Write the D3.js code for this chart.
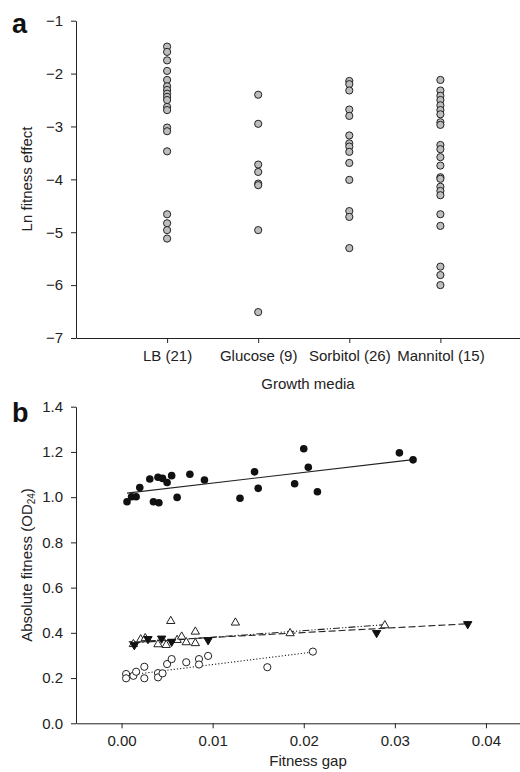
<!DOCTYPE html>
<html>
<head>
<meta charset="utf-8">
<script src="https://cdn.jsdelivr.net/npm/d3@7"></script>
<style>
  body { margin: 0; background: #fff; }
  svg { display: block; font-family: "Liberation Sans", Arial, sans-serif; }
  .tick text { font-size: 15px; fill: #222; }
  .domain, .tick line { stroke: #222; }
</style>
</head>
<body>
<div id="chart"></div>
<script>
// Panel a: Ln fitness effect per growth medium
const media = ['LB (21)', 'Glucose (9)', 'Sorbitol (26)', 'Mannitol (15)'];
const lbValues = [-1.49, -1.59, -1.75, -1.95, -2.12, -2.24, -2.31, -2.38, -2.44, -2.50, -2.63, -2.69, -3.02, -3.09, -3.47, -4.66, -4.83, -4.96, -5.12];
const glucoseValues = [-2.40, -2.95, -3.72, -3.86, -4.08, -4.11, -4.96, -6.51];
const sorbitolValues = [-2.14, -2.20, -2.32, -2.68, -2.80, -3.17, -3.32, -3.38, -3.48, -3.69, -4.01, -4.60, -4.71, -5.30];
const mannitolValues = [-2.12, -2.32, -2.42, -2.50, -2.60, -2.69, -2.77, -2.92, -2.97, -3.35, -3.43, -3.58, -3.74, -3.96, -3.99, -4.14, -4.22, -4.30, -4.66, -4.88, -5.65, -5.81, -6.00];
const yTicksA = [-7, -6, -5, -4, -3, -2, -1];

// Panel b: absolute fitness vs fitness gap, [gap, OD24]
const filledCircles = [[0.0006, 0.980], [0.0011, 1.002], [0.0016, 1.002], [0.0020, 1.043], [0.0031, 1.080], [0.0035, 0.980], [0.0040, 1.088], [0.0041, 0.975], [0.0045, 1.083], [0.0050, 1.065], [0.0055, 1.095], [0.0061, 0.999], [0.0075, 1.101], [0.0091, 1.076], [0.0130, 0.995], [0.0146, 1.112], [0.0150, 1.039], [0.0190, 1.059], [0.0200, 1.214], [0.0205, 1.132], [0.0215, 1.024], [0.0305, 1.196], [0.0320, 1.165]];
const downTriangles = [[0.0014, 0.346], [0.0029, 0.373], [0.0044, 0.375], [0.0055, 0.361], [0.0095, 0.368], [0.0280, 0.400], [0.0380, 0.439]];
const openTriangles = [[0.0013, 0.350], [0.0021, 0.371], [0.0026, 0.376], [0.0040, 0.349], [0.0049, 0.346], [0.0054, 0.452], [0.0061, 0.368], [0.0066, 0.383], [0.0071, 0.358], [0.0081, 0.405], [0.0081, 0.354], [0.0125, 0.445], [0.0185, 0.398], [0.0289, 0.433]];
const openCircles = [[0.0005, 0.218], [0.0005, 0.199], [0.0013, 0.210], [0.0016, 0.228], [0.0025, 0.250], [0.0025, 0.199], [0.0040, 0.222], [0.0040, 0.203], [0.0045, 0.221], [0.0050, 0.262], [0.0055, 0.284], [0.0071, 0.270], [0.0085, 0.284], [0.0085, 0.260], [0.0095, 0.298], [0.0160, 0.248], [0.0210, 0.317]];
// fitted lines: [x0, y0, x1, y1]
const fitFilledCircles = [0.0006, 1.018, 0.0320, 1.166];
const fitDownTriangles = [0.0008, 0.360, 0.0380, 0.440];
const fitOpenTriangles = [0.0013, 0.355, 0.0289, 0.436];
const fitOpenCircles = [0.0005, 0.212, 0.0210, 0.315];
const xTicksB = [0, 0.01, 0.02, 0.03, 0.04];
const yTicksB = [0, 0.2, 0.4, 0.6, 0.8, 1.0, 1.2, 1.4];

const W = 520, H = 772;
const svg = d3.select('#chart').append('svg')
  .attr('width', W)
  .attr('height', H);

// ---------- panel a ----------
const left = 76;
const xA = d3.scalePoint().domain(media).range([left, 531.5]).padding(1);
const yA = d3.scaleLinear().domain([-7, -1]).range([338, 20.7]);

svg.append('g')
  .attr('transform', `translate(${left},0)`)
  .call(d3.axisLeft(yA).tickValues(yTicksA).tickFormat(d3.format('d')).tickSize(5).tickSizeOuter(0).tickPadding(8));

svg.append('g')
  .attr('transform', 'translate(0,338)')
  .call(d3.axisBottom(xA).tickSize(5).tickSizeOuter(0).tickPadding(7.5));

const seriesA = [lbValues, glucoseValues, sorbitolValues, mannitolValues];
seriesA.forEach((vals, i) => {
  svg.append('g').selectAll('circle')
    .data(vals)
    .join('circle')
    .attr('cx', xA(media[i]))
    .attr('cy', d => yA(d))
    .attr('r', 3.6)
    .attr('fill', '#bdbdbd')
    .attr('stroke', '#222')
    .attr('stroke-width', 1);
});

svg.append('text')
  .attr('x', 308).attr('y', 389)
  .attr('text-anchor', 'middle')
  .attr('font-size', 15).attr('fill', '#222')
  .text('Growth media');

svg.append('text')
  .attr('transform', 'translate(31.5,179) rotate(-90)')
  .attr('text-anchor', 'middle')
  .attr('font-size', 15).attr('fill', '#222')
  .text('Ln fitness effect');

svg.append('text')
  .attr('x', 12).attr('y', 33)
  .attr('font-size', 27).attr('font-weight', 'bold').attr('fill', '#111')
  .text('a');

// ---------- panel b ----------
const xB = d3.scaleLinear().domain([-0.005, 0.045]).range([left, 531.5]);
const yB = d3.scaleLinear().domain([0, 1.4]).range([723.3, 406.7]);

svg.append('g')
  .attr('transform', `translate(${left},0)`)
  .call(d3.axisLeft(yB).tickValues(yTicksB).tickFormat(d3.format('.1f')).tickSize(5).tickSizeOuter(0).tickPadding(8));

svg.append('g')
  .attr('transform', 'translate(0,723.3)')
  .call(d3.axisBottom(xB).tickValues(xTicksB).tickFormat(d3.format('.2f')).tickSize(5).tickSizeOuter(0).tickPadding(7));

const fits = [
  {f: fitFilledCircles, dash: null},
  {f: fitDownTriangles, dash: '7,3'},
  {f: fitOpenTriangles, dash: '7,2,1.2,2,1.2,2'},
  {f: fitOpenCircles, dash: '1.2,2'}
];
svg.append('g').selectAll('line')
  .data(fits)
  .join('line')
  .attr('x1', d => xB(d.f[0])).attr('y1', d => yB(d.f[1]))
  .attr('x2', d => xB(d.f[2])).attr('y2', d => yB(d.f[3]))
  .attr('stroke', '#222')
  .attr('stroke-width', 1.1)
  .attr('stroke-dasharray', d => d.dash);

svg.append('g').selectAll('circle')
  .data(openCircles)
  .join('circle')
  .attr('cx', d => xB(d[0])).attr('cy', d => yB(d[1]))
  .attr('r', 3.6)
  .attr('fill', '#fff').attr('stroke', '#222').attr('stroke-width', 1);

const tri = d3.symbol().type(d3.symbolTriangle).size(30);
svg.append('g').selectAll('path')
  .data(openTriangles)
  .join('path')
  .attr('d', tri)
  .attr('transform', d => `translate(${xB(d[0])},${yB(d[1])})`)
  .attr('fill', '#fff').attr('stroke', '#222').attr('stroke-width', 1);

svg.append('g').selectAll('path')
  .data(downTriangles)
  .join('path')
  .attr('d', tri)
  .attr('transform', d => `translate(${xB(d[0])},${yB(d[1])}) rotate(180)`)
  .attr('fill', '#111').attr('stroke', '#111').attr('stroke-width', 1);

svg.append('g').selectAll('circle')
  .data(filledCircles)
  .join('circle')
  .attr('cx', d => xB(d[0])).attr('cy', d => yB(d[1]))
  .attr('r', 3.8)
  .attr('fill', '#111');

svg.append('text')
  .attr('x', 308).attr('y', 766)
  .attr('text-anchor', 'middle')
  .attr('font-size', 15).attr('fill', '#222')
  .text('Fitness gap');

const yLabB = svg.append('text')
  .attr('transform', 'translate(31.5,565) rotate(-90)')
  .attr('text-anchor', 'middle')
  .attr('font-size', 15).attr('fill', '#222');
yLabB.append('tspan').text('Absolute fitness (OD');
yLabB.append('tspan').attr('font-size', 10).attr('dy', 3).text('24');
yLabB.append('tspan').attr('dy', -3).text(')');

svg.append('text')
  .attr('x', 12).attr('y', 422)
  .attr('font-size', 27).attr('font-weight', 'bold').attr('fill', '#111')
  .text('b');
</script>
</body>
</html>
